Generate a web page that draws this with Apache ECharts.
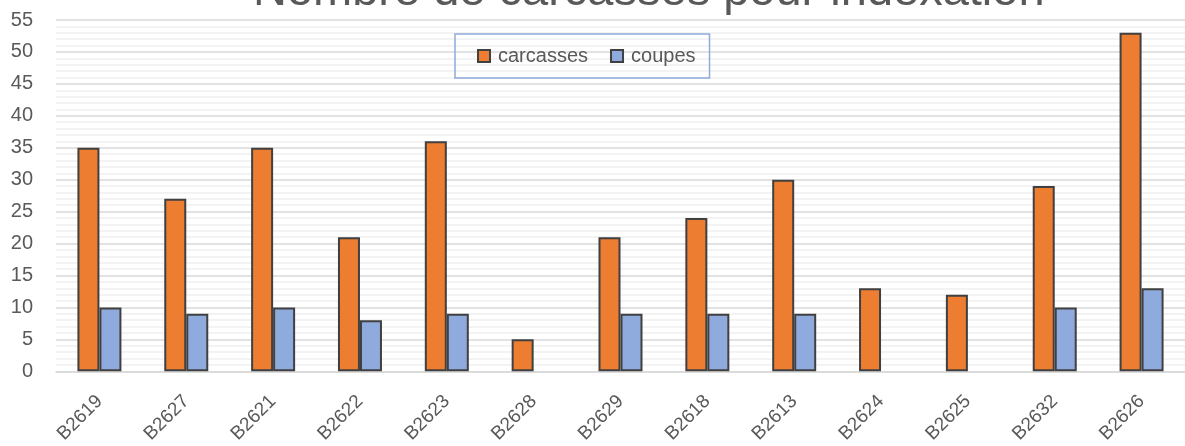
<!DOCTYPE html>
<html>
<head>
<meta charset="utf-8">
<script src="https://cdn.jsdelivr.net/npm/echarts@6/dist/echarts.min.js"></script>
<style>
  html, body { margin: 0; padding: 0; background: #fff; }
  #chart { width: 1185px; height: 446px; }
</style>
</head>
<body>
<div id="chart"></div>
<script>
// données
const categories = ['B2619', 'B2627', 'B2621', 'B2622', 'B2623', 'B2628', 'B2629', 'B2618', 'B2613', 'B2624', 'B2625', 'B2632', 'B2626']
const carcasses = [35, 27, 35, 21, 36, 5, 21, 24, 30, 13, 12, 29, 53]
const coupes = [10, 9, 10, 8, 9, null, 9, 9, 9, null, null, 10, 13]
const yTicks = [0, 5, 10, 15, 20, 25, 30, 35, 40, 45, 50, 55]

const font = 'Liberation Sans, Arial, sans-serif'
const textColor = '#595959'

const chart = echarts.init(document.getElementById('chart'))
chart.setOption({
  animation: false,
  title: {
    text: 'Nombre de carcasses pour indexation',
    left: 248,
    top: -36,
    textStyle: { fontFamily: font, fontSize: 47, fontWeight: 'normal', color: textColor }
  },
  legend: {
    data: ['carcasses', 'coupes'],
    left: 455,
    top: 34,
    padding: [12, 14, 12, 22],
    itemGap: 22,
    itemWidth: 12,
    itemHeight: 12,
    icon: 'rect',
    borderColor: '#8faadc',
    borderWidth: 1.5,
    textStyle: { fontFamily: font, fontSize: 20, color: textColor, padding: [0, 0, 0, 3] }
  },
  grid: {
    left: 56,
    right: -10,
    top: 20,
    bottom: 74,
    containLabel: false
  },
  xAxis: {
    type: 'category',
    data: categories,
    axisLine: { lineStyle: { color: '#d9d9d9', width: 1.5 } },
    axisTick: { show: false },
    axisLabel: {
      rotate: 45,
      interval: 0,
      margin: 27,
      fontFamily: font,
      fontSize: 19,
      color: textColor
    }
  },
  yAxis: {
    type: 'value',
    min: 0,
    max: yTicks[yTicks.length - 1],
    interval: 5,
    axisLine: { show: false },
    axisTick: { show: false },
    axisLabel: { fontFamily: font, fontSize: 20, color: textColor, margin: 23 },
    splitLine: { lineStyle: { color: '#d9d9d9', width: 1.5 } },
    minorTick: { show: false, splitNumber: 5 },
    minorSplitLine: { show: true, lineStyle: { color: '#f0f0f0', width: 1.5 } }
  },
  series: [
    {
      name: 'carcasses',
      type: 'bar',
      data: carcasses,
      barWidth: 22,
      barGap: '0%',
      itemStyle: { color: '#ed7d31', borderColor: '#404040', borderWidth: 2 }
    },
    {
      name: 'coupes',
      type: 'bar',
      data: coupes,
      barWidth: 22,
      itemStyle: { color: '#8faadc', borderColor: '#404040', borderWidth: 2 }
    }
  ]
})
</script>
</body>
</html>
